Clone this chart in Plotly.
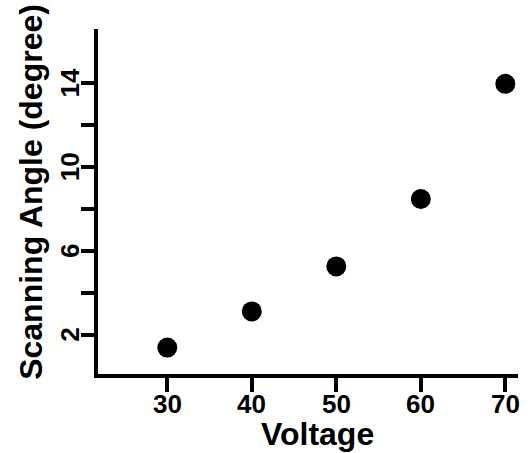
import plotly.graph_objects as go

voltage = [30, 40, 50, 60, 70]
angle = [1.38, 3.11, 5.26, 8.48, 13.98]
x_ticks = [30, 40, 50, 60, 70]
y_ticks = [2, 6, 10, 14]
y_minor = [4, 8, 12]

FONT = "Liberation Sans, Arial, Helvetica, sans-serif"
XR = [21.8, 71.5]
YR = [0.12, 16.6]
CLEAR = "rgba(0,0,0,0)"

fig = go.Figure()
fig.add_trace(go.Scatter(
    x=voltage, y=angle, mode="markers",
    marker=dict(size=20, color="black", line=dict(width=0)),
    showlegend=False, hoverinfo="skip", cliponaxis=False,
))

fig.update_layout(
    width=531, height=453,
    margin=dict(l=98, r=13, t=29, b=79, autoexpand=False),
    paper_bgcolor="white", plot_bgcolor="white",
    font=dict(family=FONT, color="black"),
)
fig.update_xaxes(
    range=XR, showgrid=False, zeroline=False, automargin=False,
    showline=True, linewidth=4, linecolor="black",
    ticks="outside", ticklen=14, tickwidth=4, tickcolor="black",
    tickvals=x_ticks, ticktext=[str(v) for v in x_ticks],
    tickfont=dict(size=26, family=FONT, weight="bold", color=CLEAR),
)
fig.update_yaxes(
    range=YR, showgrid=False, zeroline=False, automargin=False,
    showline=True, linewidth=4, linecolor="black",
    ticks="outside", ticklen=13, tickwidth=4, tickcolor="black",
    tickvals=y_ticks, ticktext=[str(v) for v in y_ticks], tickangle=-90,
    tickfont=dict(size=26, family=FONT, weight="bold", color=CLEAR),
    minor=dict(ticks="outside", ticklen=13, tickwidth=4, tickcolor="black",
               tickvals=y_minor, showgrid=False),
)

# visible tick labels placed at the axis scale positions
for v in x_ticks:
    fig.add_annotation(
        text=str(v), xref="x", yref="paper", x=v, y=0,
        xanchor="center", yanchor="middle", yshift=-30, showarrow=False,
        font=dict(size=26, family=FONT, weight="bold", color="black"),
    )
for v in y_ticks:
    fig.add_annotation(
        text=str(v), xref="paper", yref="y", x=0, y=v,
        xanchor="center", yanchor="middle", xshift=-28, textangle=-90,
        showarrow=False,
        font=dict(size=26, family=FONT, weight="bold", color="black"),
    )

fig.add_annotation(
    text="Scanning Angle (degree)", xref="paper", yref="paper",
    x=0, y=0.528, xanchor="center", yanchor="middle", xshift=-67,
    textangle=-90, showarrow=False,
    font=dict(size=32, family=FONT, weight="bold", color="black"),
)
fig.add_annotation(
    text="Voltage", xref="paper", yref="paper",
    x=0.5, y=0, xanchor="center", yanchor="middle", xshift=9, yshift=-60,
    showarrow=False,
    font=dict(size=32, family=FONT, weight="bold", color="black"),
)
fig.write_html(
    "out.html",
    config={"displayModeBar": False},
    post_script="document.body.style.margin='0';document.body.style.overflow='hidden';",
)
